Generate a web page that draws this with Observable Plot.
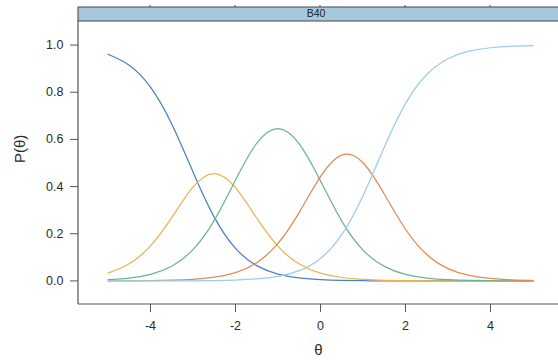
<!DOCTYPE html>
<html>
<head>
<meta charset="utf-8">
<script src="https://cdn.jsdelivr.net/npm/d3@7"></script>
<script src="https://cdn.jsdelivr.net/npm/@observablehq/plot@0.6"></script>
<style>
  html, body { margin: 0; padding: 0; background: #fff; }
  #chart svg { display: block; }
</style>
</head>
<body>
<div id="chart"></div>
<script>
const panelLabel = "B40";
const theta = [-5, -4.5, -4, -3.5, -3, -2.5, -2, -1.5, -1, -0.5, 0, 0.5, 1, 1.5, 2, 2.5, 3, 3.5, 4, 4.5, 5];
const p1 = [0.9612, 0.9144, 0.8218, 0.6657, 0.4623, 0.2707, 0.1381, 0.0647, 0.0290, 0.0127, 0.0055, 0.0024, 0.0010, 0.0004, 0.0002, 0.0001, 0, 0, 0, 0, 0];
const p2 = [0.0332, 0.0727, 0.1487, 0.2686, 0.3976, 0.4553, 0.3954, 0.2659, 0.1467, 0.0716, 0.0327, 0.0145, 0.0063, 0.0027, 0.0012, 0.0005, 0.0002, 0.0001, 0, 0, 0];
const p3 = [0.0054, 0.0123, 0.0281, 0.0625, 0.1326, 0.2568, 0.4277, 0.5838, 0.6461, 0.5814, 0.4241, 0.2538, 0.1308, 0.0615, 0.0276, 0.0121, 0.0053, 0.0023, 0.0010, 0.0004, 0.0002];
const p4 = [0.0002, 0.0006, 0.0013, 0.0029, 0.0068, 0.0156, 0.0352, 0.0772, 0.1590, 0.2908, 0.4425, 0.5333, 0.5009, 0.3685, 0.2191, 0.1120, 0.0524, 0.0235, 0.0103, 0.0045, 0.0019];
const p5 = [0.0000, 0.0001, 0.0001, 0.0003, 0.0007, 0.0016, 0.0036, 0.0084, 0.0192, 0.0435, 0.0952, 0.1960, 0.3610, 0.5668, 0.7519, 0.8753, 0.9421, 0.9741, 0.9887, 0.9951, 0.9979];
const categories = ["1", "2", "3", "4", "5"];
const series = [p1, p2, p3, p4, p5];
const colors = ["#4b80c0", "#ebb24f", "#6cb48e", "#e08a54", "#9ccbee"];
const xTicks = [-4, -2, 0, 2, 4];
const yTicks = [0, 0.2, 0.4, 0.6, 0.8, 1.0];

const rows = [];
series.forEach((vals, k) => vals.forEach((v, i) => rows.push({theta: theta[i], p: v, cat: categories[k]})));

const FONT = "'Liberation Sans', Arial, Helvetica, sans-serif";

// strip + panel borders
function panelDecor(index, scales, values, dims) {
  const g = d3.create("svg:g");
  const L = dims.marginLeft, T = dims.marginTop, R = dims.width - dims.marginRight, B = dims.height - dims.marginBottom;
  const stripTop = 7;
  g.append("rect").attr("x", L).attr("y", stripTop).attr("width", R - L + 2).attr("height", T - stripTop)
    .attr("fill", "#a7c8dc").attr("stroke", "#444").attr("stroke-width", 1);
  g.append("text").attr("x", (L + R) / 2 - 2).attr("y", (stripTop + T) / 2 + 0.5)
    .attr("text-anchor", "middle").attr("dominant-baseline", "middle")
    .attr("font-family", FONT).attr("font-size", 10.5).attr("fill", "#222").text(panelLabel);
  for (const t of xTicks) {
    const x = scales.x(t);
    g.append("line").attr("x1", x).attr("x2", x).attr("y1", stripTop - 2).attr("y2", stripTop)
      .attr("stroke", "#444");
  }
  g.append("line").attr("x1", L).attr("x2", L).attr("y1", T).attr("y2", B).attr("stroke", "#555").attr("stroke-width", 1.2);
  g.append("line").attr("x1", L).attr("x2", R + 2).attr("y1", B).attr("y2", B).attr("stroke", "#555").attr("stroke-width", 1.2);
  return g.node();
}

const hyphenFormat = d => String(d);

const chart = Plot.plot({
  width: 558,
  height: 363,
  marginLeft: 78,
  marginRight: 0,
  marginTop: 21,
  marginBottom: 59,
  style: {fontFamily: FONT, fontSize: "12.5px", color: "#2a2a2a", background: "#fff", overflow: "visible"},
  x: {domain: [-5.694, 5.6], label: null},
  y: {domain: [-0.1, 1.1], label: null},
  color: {domain: categories, range: colors},
  marks: [
    Plot.line(rows, {x: "theta", y: "p", z: "cat", stroke: "cat", strokeWidth: 1.25, curve: "natural"}),
    panelDecor,
    Plot.axisX({ticks: xTicks, tickSize: 8, tickPadding: 9, stroke: "#555", label: null, fontSize: 12.5, tickFormat: hyphenFormat}),
    Plot.axisY({ticks: yTicks, tickSize: 8, tickPadding: 7, stroke: "#555", label: null, tickFormat: d3.format(".1f"), fontSize: 12.5}),
    Plot.text(["θ"], {frameAnchor: "bottom", dy: 50, fontSize: 15, fill: "#2a2a2a"}),
    Plot.text(["P(θ)"], {frameAnchor: "left", dx: -58, rotate: -90, fontSize: 15, fill: "#2a2a2a"})
  ]
});
document.getElementById("chart").appendChild(chart);
</script>
</body>
</html>
